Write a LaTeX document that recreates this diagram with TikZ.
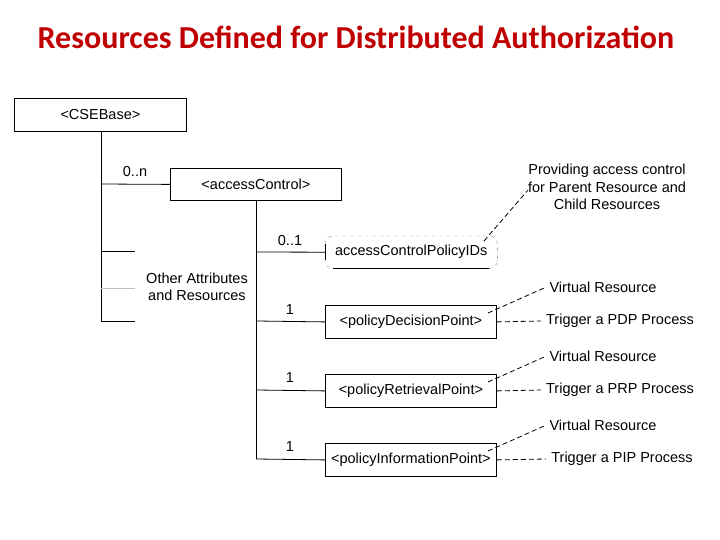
\documentclass[tikz,border=0pt]{standalone}
\usepackage{fontspec}
\setmainfont{Liberation Sans}
\newfontfamily\titlefont{Carlito}
\definecolor{titlered}{RGB}{192,0,0}
\begin{document}
\begin{tikzpicture}[x=1pt,y=-1pt,
  every node/.style={font=\fontsize{14.5}{17.5}\selectfont, inner sep=0pt},
  box/.style={draw, thick, minimum height=33pt, anchor=north west},
  ln/.style={thick},
  ann/.style={thick, dash pattern=on 5pt off 3pt}]
\useasboundingbox (0,0) rectangle (720,540);
\node[font=\titlefont\bfseries\fontsize{32}{36}\selectfont, text=titlered] (title) at (356,37) {Resources Defined for Distributed Authorization};
\node[box, minimum width=172pt] (cse) at (14,98) {<CSEBase>};
\node[box, minimum width=171pt, minimum height=32pt] (ac) at (170,168) {<accessControl>};
\node[anchor=north west, minimum width=172pt, minimum height=32pt] (ids) at (325,236) {accessControlPolicyIDs};
\draw[thin, gray, dash dot, rounded corners=8pt] (ids.north west) rectangle (ids.south east);
\draw[ln] ([xshift=8pt]ids.south west) -- ([xshift=-8pt]ids.south east);
\draw[ln] ([yshift=-8pt]ids.west) -- ([yshift=8pt]ids.west);
\node[box, minimum width=171pt] (pdp) at (325,305) {<policyDecisionPoint>};
\node[box, minimum width=171pt] (prp) at (325,374) {<policyRetrievalPoint>};
\node[box, minimum width=171pt] (pip) at (325,443) {<policyInformationPoint>};
\coordinate (v1) at (101,131); \coordinate (v1b) at (101,321);
\draw[ln] (v1) -- (v1b);
\draw[ln] (101,184) -- (ac.west);
\draw[ln] (101,251) -- (135,251);
\draw[gray!50] (101,288) -- (135,288);
\draw[ln] (101,321) -- (135,321);
\node (n0n) at (135,172) {0..n};
\node[align=center] (oth) at (197,287) {Other Attributes\\and Resources};
\coordinate (v2) at (256,200); \coordinate (v2b) at (256,459);
\draw[ln] (v2) -- (v2b);
\draw[ln] (256,252) -- (ids.west);
\draw[ln] (256,321) -- (pdp.west);
\draw[ln] (256,390) -- (prp.west);
\draw[ln] (256,459) -- (pip.west);
\node (m1) at (290,241) {0..1};
\node (m2) at (290,310) {1};
\node (m3) at (290,378) {1};
\node (m4) at (290,447) {1};
\node[align=center] (prov) at (607,187) {Providing access control\\for Parent Resource and\\Child Resources};
\draw[ann] (484,241) -- (528,190);
\node (vr1) at (603,287) {Virtual Resource};
\node (vr2) at (603,356) {Virtual Resource};
\node (vr3) at (603,425) {Virtual Resource};
\node (t1) at (620,321) {Trigger a PDP Process};
\node (t2) at (620,390) {Trigger a PRP Process};
\node (t3) at (622,459) {Trigger a PIP Process};
\draw[ann] (488,313) -- ([xshift=-3pt]vr1.west);
\draw[ann] (488,382) -- ([xshift=-3pt]vr2.west);
\draw[ann] (488,451) -- ([xshift=-3pt]vr3.west);
\draw[ann] (pdp.east) -- ([xshift=-5pt]t1.west);
\draw[ann] (prp.east) -- ([xshift=-5pt]t2.west);
\draw[ann] (pip.east) -- ([xshift=-5pt]t3.west);
\end{tikzpicture}
\end{document}
